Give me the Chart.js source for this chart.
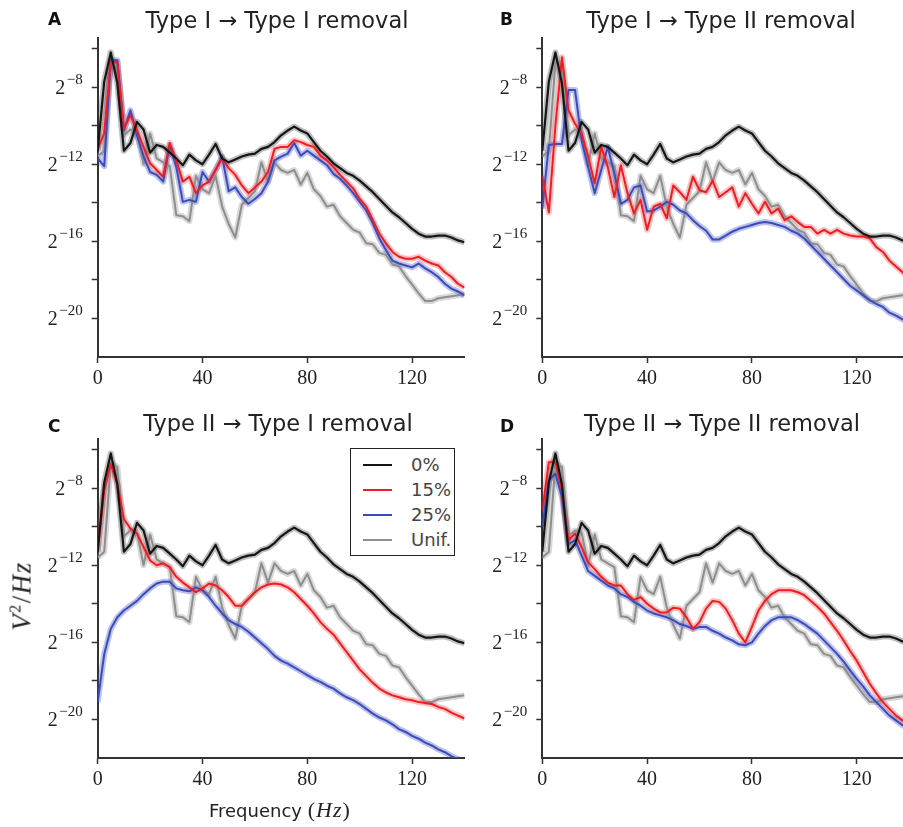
<!DOCTYPE html>
<html>
<head>
<meta charset="utf-8">
<script src="https://cdn.jsdelivr.net/npm/chart.js@4.4.0/dist/chart.umd.min.js"></script>
<style>
  body { margin: 0; background: #fff; }
  #fig { position: relative; width: 903px; height: 827px; overflow: hidden; background: #fff; }
  #fig canvas { position: absolute; }
  .title { position: absolute; font-family: 'DejaVu Sans'; font-size: 22.5px; line-height: 24px; color: #222; white-space: nowrap; transform: translateX(-50%); }
  .tag { position: absolute; font-family: 'DejaVu Sans'; font-weight: bold; font-size: 17px; line-height: 20px; color: #111; }
  #legend { position: absolute; left: 350px; top: 448px; width: 103px; height: 106px; border: 1.5px solid #222; background: #fff; }
  #legend .sw { position: absolute; left: 12px; width: 29px; height: 2.5px; }
  #legend .lb { position: absolute; left: 60px; font-family: 'DejaVu Sans'; font-size: 18px; line-height: 20px; color: #444; }
  #xlabel { position: absolute; left: 209px; top: 799px; font-family: 'DejaVu Sans'; font-size: 18px; line-height: 22px; color: #222; white-space: nowrap; }
  #xlabel .m { font-family: 'Liberation Serif'; font-size: 22px; letter-spacing: 1px; }
  #ylabel { position: absolute; left: 22px; top: 596px; font-family: 'Liberation Serif'; font-style: italic; font-size: 27px; letter-spacing: 1.5px; color: #222; white-space: nowrap; transform: translate(-50%, -50%) rotate(-90deg); }
  #ylabel sup { font-style: normal; font-size: 16px; }
</style>
</head>
<body>
<div id="fig"></div>
<script>
// log2 power spectral density (V^2/Hz) against frequency, 4 removal scenarios

const freqs = [
  0, 2.5, 5, 7.5, 10, 12.5, 15, 17.5, 20, 22.5,
  25, 27.5, 30, 32.5, 35, 37.5, 40, 42.5, 45, 47.5,
  50, 52.5, 55, 57.5, 60, 62.5, 65, 67.5, 70, 72.5,
  75, 77.5, 80, 82.5, 85, 87.5, 90, 92.5, 95, 97.5,
  100, 102.5, 105, 107.5, 110, 112.5, 115, 117.5, 120, 122.5,
  125, 127.5, 130, 132.5, 135, 137.5, 140
];

// intact network (0%) and uniform removal are shared by every panel
const zeroPct = [
  -11.3, -7.7, -6.2, -7.8, -11.3, -10.9, -9.8, -10.2, -11.4, -11.0,
  -11.1, -11.4, -11.7, -12.05, -11.5, -11.8, -12.0, -11.5, -10.95, -11.7,
  -11.9, -11.75, -11.6, -11.5, -11.45, -11.2, -11.1, -10.85, -10.5, -10.25,
  -10.05, -10.25, -10.4, -10.85, -11.3, -11.6, -11.95, -12.2, -12.45, -12.6,
  -12.85, -13.15, -13.45, -13.8, -14.15, -14.5, -14.75, -15.05, -15.35, -15.6,
  -15.75, -15.75, -15.7, -15.7, -15.8, -15.95, -16.05
];
const uniform = [
  -11.6, -11.3, -6.7, -6.9, -10.5, -10.2, -10.3, -12.0, -10.4, -11.7,
  -11.9, -12.1, -14.65, -14.7, -14.95, -12.6, -13.3, -13.5, -12.6, -14.2,
  -15.1, -15.8, -14.1, -13.75, -13.4, -11.9, -12.9, -11.9, -12.3, -12.45,
  -12.3, -13.05, -12.45, -13.3, -13.65, -14.2, -14.1, -14.7, -15.05, -15.4,
  -15.55, -16.1, -16.15, -16.6, -16.7, -17.2, -17.3, -17.8, -18.25, -18.7,
  -19.1, -19.1, -18.95, -18.9, -18.85, -18.8, -18.75
];

// A: Type I -> Type I removal
const redA = [
  -11.2, -10.4, -6.7, -6.7, -10.15, -9.45, -10.25, -11.1, -11.95, -12.3,
  -12.65, -10.9, -11.8, -12.9, -12.65, -13.5, -13.1, -12.9, -12.3, -11.7,
  -12.2, -12.55, -13.1, -13.5, -13.2, -12.9, -12.4, -11.2, -11.1, -11.1,
  -10.75, -10.85, -11.0, -11.1, -11.55, -11.8, -12.15, -12.55, -12.9, -13.25,
  -13.8, -14.2, -14.9, -15.6, -16.1, -16.55, -16.8, -16.9, -16.9, -16.8,
  -17.0, -17.15, -17.25, -17.6, -17.85, -18.2, -18.4
];
const blueA = [
  -11.7, -12.1, -6.6, -6.6, -10.25, -9.2, -10.5, -11.6, -12.4, -12.55,
  -12.9, -11.0, -12.15, -13.95, -13.85, -13.95, -12.4, -12.9, -12.3, -11.6,
  -13.4, -13.2, -13.7, -14.05, -13.8, -13.5, -12.9, -11.8, -11.6, -11.45,
  -10.9, -11.55, -11.3, -11.55, -11.8, -12.05, -12.5, -12.75, -13.1, -13.5,
  -13.95, -14.4, -15.05, -15.85, -16.45, -17.0, -17.15, -17.25, -17.35, -17.15,
  -17.4, -17.6, -17.85, -18.2, -18.45, -18.6, -18.8
];

// B: Type I -> Type II removal
const redB = [
  -12.6, -14.5, -10.0, -6.45, -9.2, -9.9, -10.4, -11.6, -13.0, -11.1,
  -12.15, -13.7, -12.05, -13.5, -14.55, -13.85, -15.4, -14.2, -14.05, -14.8,
  -13.1, -13.45, -13.85, -12.65, -13.35, -13.45, -12.85, -13.7, -13.45, -13.2,
  -14.2, -13.5, -14.05, -14.55, -13.95, -14.55, -14.3, -14.9, -14.7, -15.0,
  -15.25, -15.25, -15.6, -15.4, -15.6, -15.4, -15.6, -15.7, -15.75, -15.75,
  -15.85, -16.3, -16.55, -17.0, -17.3, -17.6, -17.9
];
const blueB = [
  -14.3, -11.0, -10.95, -10.95, -8.15, -8.15, -10.75, -12.15, -13.5, -12.3,
  -11.1, -12.5, -14.05, -13.85, -13.2, -13.1, -14.45, -14.4, -14.2, -13.95,
  -14.1, -14.4, -14.55, -14.9, -15.2, -15.45, -15.9, -15.9, -15.7, -15.5,
  -15.35, -15.25, -15.15, -15.05, -15.0, -15.05, -15.15, -15.25, -15.45, -15.6,
  -15.85, -16.2, -16.55, -16.9, -17.25, -17.6, -17.95, -18.3, -18.55, -18.8,
  -19.05, -19.25, -19.4, -19.7, -19.85, -20.05, -20.2
];

// C: Type II -> Type I removal
const redC = [
  -11.25, -8.1, -6.75, -7.8, -9.6, -10.1, -10.35, -11.05, -11.75, -12.0,
  -11.9, -12.1, -12.6, -12.9, -13.15, -13.4, -13.2, -12.95, -13.05, -13.3,
  -13.65, -14.1, -14.1, -13.75, -13.4, -13.15, -13.0, -12.95, -13.0, -13.15,
  -13.4, -13.75, -14.1, -14.5, -14.95, -15.3, -15.6, -16.05, -16.5, -16.95,
  -17.4, -17.75, -18.1, -18.4, -18.6, -18.75, -18.85, -18.95, -19.0, -19.1,
  -19.15, -19.2, -19.35, -19.45, -19.65, -19.8, -19.95
];
const blueC = [
  -19.1, -16.6, -15.3, -14.7, -14.35, -14.1, -13.85, -13.5, -13.2, -12.95,
  -12.85, -12.85, -13.2, -13.3, -13.35, -13.15, -13.3, -13.65, -14.1, -14.5,
  -14.85, -15.05, -15.2, -15.45, -15.75, -16.05, -16.35, -16.7, -16.95, -17.1,
  -17.3, -17.5, -17.7, -17.9, -18.05, -18.25, -18.4, -18.65, -18.85, -19.0,
  -19.2, -19.45, -19.7, -19.9, -20.05, -20.25, -20.5, -20.65, -20.85, -21.0,
  -21.2, -21.35, -21.55, -21.7, -21.9, -22.05, -22.2
];

// D: Type II -> Type II removal
const redD = [
  -9.15, -6.65, -6.65, -8.1, -10.7, -10.35, -11.05, -11.85, -12.2, -12.6,
  -12.9, -13.05, -13.05, -13.5, -13.8, -13.65, -14.0, -14.25, -14.45, -14.45,
  -14.2, -14.25, -14.7, -15.3, -14.95, -14.25, -13.85, -13.9, -14.25, -14.85,
  -15.55, -16.0, -15.2, -14.35, -13.85, -13.5, -13.3, -13.3, -13.3, -13.4,
  -13.55, -13.85, -14.15, -14.5, -14.95, -15.4, -15.9, -16.45, -16.95, -17.55,
  -18.15, -18.65, -19.1, -19.45, -19.8, -20.05, -20.3
];
const blueD = [
  -10.0, -7.6, -7.25, -8.45, -10.9, -10.7, -11.5, -12.3, -12.55, -12.8,
  -13.05, -13.2, -13.5, -13.65, -13.9, -14.1, -14.35, -14.5, -14.6, -14.7,
  -14.85, -15.05, -15.15, -15.3, -15.2, -15.2, -15.4, -15.55, -15.75, -15.9,
  -16.1, -16.15, -16.0, -15.55, -15.15, -14.85, -14.7, -14.7, -14.7, -14.85,
  -15.05, -15.3, -15.55, -15.9, -16.25, -16.6, -17.0, -17.45, -17.9, -18.3,
  -18.75, -19.1, -19.45, -19.8, -20.05, -20.3, -20.5
];

const xTicks = [0, 40, 80, 120];
const yMajor = [-20, -16, -12, -8];     // labelled as powers of two
const yMinor = [-18, -14, -10, -6];
const seriesLabels = ['0%', '15%', '25%', 'Unif.'];
const panelTags = ['A', 'B', 'C', 'D'];
const panelTitles = [
  'Type I \u2192 Type I removal',
  'Type I \u2192 Type II removal',
  'Type II \u2192 Type I removal',
  'Type II \u2192 Type II removal'
];

const lineColors = ['#151515', '#ee1d23', '#3b4cb8', '#8e8e8e'];
const bandColors = ['rgba(40,40,40,0.3)', 'rgba(240,70,70,0.33)', 'rgba(70,85,200,0.36)', 'rgba(150,150,150,0.36)'];

// canvas placement; plot area is 140 Hz wide
const PLOT_W = 366.8, AXIS_Y_W = 40, AXIS_X_H = 30;
const panels = [
  { left: 0,   top: 0,   w: 470, h: 400, areaL: 97.7, areaT: 38, areaB: 357, red: redA, blue: blueA },
  { left: 455, top: 0,   w: 460, h: 400, areaL: 87.3, areaT: 38, areaB: 357, red: redB, blue: blueB },
  { left: 0,   top: 400, w: 470, h: 427, areaL: 97.7, areaT: 39, areaB: 358, red: redC, blue: blueC },
  { left: 455, top: 400, w: 460, h: 427, areaL: 87.3, areaT: 39, areaB: 358, red: redD, blue: blueD }
];
const titleSpots = [[277, 8], [721, 8], [278, 411], [722, 411]];
const tagSpots   = [[48, 9], [500, 9], [48, 416], [500, 416]];

// y tick labels written as 2 with a raised exponent
const powerLabels = {
  id: 'powerLabels',
  afterDraw(chart) {
    const ys = chart.scales.y, ctx = chart.ctx;
    const right = chart.chartArea.left - 15;
    ctx.save();
    ctx.fillStyle = '#222';
    ctx.textAlign = 'right';
    ctx.textBaseline = 'alphabetic';
    yMajor.forEach(v => {
      const py = ys.getPixelForValue(v);
      const exp = '\u2212' + Math.abs(v);
      ctx.font = '15px "Liberation Serif"';
      const ew = ctx.measureText(exp).width;
      ctx.fillText(exp, right, py - 3);
      ctx.font = '20px "Liberation Serif"';
      ctx.fillText('2', right - ew - 1.5, py + 6.5);
    });
    ctx.restore();
  }
};

const noClip = { left: 0, right: 0, top: 0, bottom: 0 };
const pts = vals => freqs.map((f, i) => ({ x: f, y: vals[i] }));

const fig = document.getElementById('fig');

panels.forEach((p, k) => {
  const cv = document.createElement('canvas');
  cv.width = p.w; cv.height = p.h;
  cv.style.left = p.left + 'px';
  cv.style.top  = p.top + 'px';
  fig.appendChild(cv);

  const values = [zeroPct, p.red, p.blue, uniform];
  const datasets = [];
  values.forEach((v, i) => {
    // shaded spread under each curve
    datasets.push({ data: pts(v), borderColor: bandColors[i], borderWidth: 6,
                    borderJoinStyle: 'round', order: 4 + i, clip: noClip });
    datasets.push({ label: seriesLabels[i], data: pts(v), borderColor: lineColors[i],
                    borderWidth: i === 0 ? 2.2 : 2, borderJoinStyle: 'round', order: i, clip: noClip });
  });

  new Chart(cv.getContext('2d'), {
    type: 'line',
    data: { datasets },
    options: {
      responsive: false,
      animation: false,
      layout: { padding: {
        left: p.areaL - AXIS_Y_W,
        right: p.w - p.areaL - PLOT_W,
        top: p.areaT,
        bottom: p.h - p.areaB - AXIS_X_H
      } },
      elements: { point: { radius: 0 }, line: { tension: 0, fill: false } },
      plugins: { legend: { display: false }, tooltip: { enabled: false } },
      scales: {
        x: {
          type: 'linear', min: 0, max: 140,
          afterBuildTicks: s => { s.ticks = xTicks.map(v => ({ value: v })); },
          afterFit: s => { s.height = AXIS_X_H; },
          border: { color: '#333', width: 2 },
          grid: { drawOnChartArea: false, tickLength: 6, tickColor: '#333', tickWidth: 1.5 },
          ticks: { font: { family: 'Liberation Serif', size: 20 }, color: '#222', padding: 4, maxRotation: 0 }
        },
        y: {
          type: 'linear', min: -22, max: -5.45,
          afterBuildTicks: s => { s.ticks = yMajor.concat(yMinor).sort((a, b) => a - b).map(v => ({ value: v })); },
          afterFit: s => { s.width = AXIS_Y_W; },
          border: { color: '#333', width: 2 },
          grid: { drawOnChartArea: false, tickLength: 6, tickColor: '#333', tickWidth: 1.5 },
          ticks: { display: false }
        }
      }
    },
    plugins: [powerLabels]
  });

  const t = document.createElement('div');
  t.className = 'title';
  t.textContent = panelTitles[k];
  t.style.left = titleSpots[k][0] + 'px';
  t.style.top = titleSpots[k][1] + 'px';
  fig.appendChild(t);

  const g = document.createElement('div');
  g.className = 'tag';
  g.textContent = panelTags[k];
  g.style.left = tagSpots[k][0] + 'px';
  g.style.top = tagSpots[k][1] + 'px';
  fig.appendChild(g);
});

// legend box inside panel C
const legend = document.createElement('div');
legend.id = 'legend';
seriesLabels.forEach((lab, i) => {
  const cy = 16 + i * 25;
  const sw = document.createElement('div');
  sw.className = 'sw';
  sw.style.top = (cy - 1.25) + 'px';
  sw.style.background = lineColors[i];
  const tx = document.createElement('div');
  tx.className = 'lb';
  tx.style.top = (cy - 10) + 'px';
  tx.textContent = lab;
  legend.appendChild(sw);
  legend.appendChild(tx);
});
fig.appendChild(legend);

const xl = document.createElement('div');
xl.id = 'xlabel';
xl.innerHTML = 'Frequency <span class="m">(<i>Hz</i>)</span>';
fig.appendChild(xl);

const yl = document.createElement('div');
yl.id = 'ylabel';
yl.innerHTML = 'V<sup>2</sup><span style="font-style:normal">/</span>Hz';
fig.appendChild(yl);
</script>
</body>
</html>
